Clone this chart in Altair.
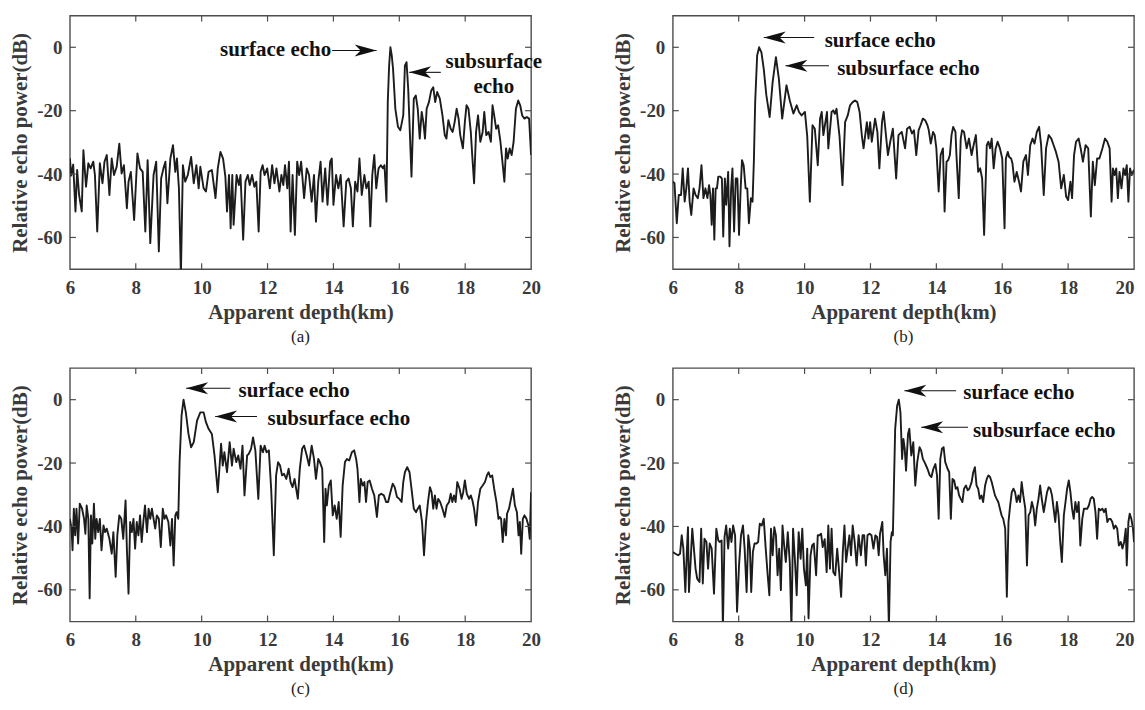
import altair as alt
import pandas as pd

# ---------------- data ----------------
X_TICKS = [6, 8, 10, 12, 14, 16, 18, 20]
Y_TICKS = [-60, -40, -20, 0]
CAPTIONS = ["(a)", "(b)", "(c)", "(d)"]

A_DEPTH = [6.00, 6.04, 6.10, 6.17, 6.22, 6.28, 6.36, 6.41, 6.49, 6.56,
           6.63, 6.71, 6.76, 6.83, 6.91, 6.99, 7.05, 7.12, 7.20, 7.27,
           7.34, 7.42, 7.50, 7.57, 7.64, 7.73, 7.78, 7.85, 7.95, 8.05,
           8.13, 8.21, 8.29, 8.36, 8.44, 8.54, 8.62, 8.70, 8.77, 8.84,
           8.90, 8.96, 9.05, 9.13, 9.20, 9.25, 9.31, 9.37, 9.43, 9.50,
           9.58, 9.68, 9.76, 9.84, 9.91, 9.96, 10.06, 10.13, 10.21, 10.31,
           10.42, 10.49, 10.57, 10.65, 10.72, 10.77, 10.83, 10.88, 10.93, 10.97,
           11.06, 11.13, 11.18, 11.26, 11.33, 11.40, 11.46, 11.53, 11.60, 11.66,
           11.73, 11.79, 11.85, 11.91, 11.99, 12.07, 12.14, 12.21, 12.27, 12.36,
           12.42, 12.48, 12.53, 12.60, 12.65, 12.70, 12.76, 12.83, 12.90, 12.96,
           13.02, 13.11, 13.19, 13.26, 13.34, 13.41, 13.47, 13.54, 13.61, 13.67,
           13.75, 13.82, 13.90, 13.95, 14.00, 14.08, 14.15, 14.22, 14.31, 14.39,
           14.46, 14.53, 14.59, 14.66, 14.73, 14.79, 14.86, 14.94, 15.00, 15.07,
           15.12, 15.18, 15.24, 15.30, 15.37, 15.44, 15.51, 15.55, 15.61, 15.65,
           15.69, 15.73, 15.77, 15.81, 15.88, 15.96, 16.03, 16.12, 16.17, 16.22,
           16.27, 16.37, 16.44, 16.50, 16.56, 16.62, 16.68, 16.73, 16.78, 16.83,
           16.90, 16.97, 17.03, 17.09, 17.15, 17.23, 17.31, 17.38, 17.43, 17.49,
           17.56, 17.62, 17.68, 17.74, 17.80, 17.85, 17.93, 17.99, 18.04, 18.10,
           18.17, 18.22, 18.27, 18.33, 18.39, 18.46, 18.53, 18.58, 18.64, 18.71,
           18.78, 18.83, 18.88, 18.94, 19.00, 19.07, 19.13, 19.19, 19.24, 19.29,
           19.35, 19.41, 19.47, 19.54, 19.61, 19.67, 19.73, 19.80, 19.87, 19.94,
           20.00]
A_POWER = [-35.0, -40.5, -37.0, -51.8, -38.7, -46.6, -51.8, -32.5, -44.0, -36.6,
           -38.2, -36.1, -40.3, -58.1, -36.6, -42.9, -36.1, -34.0, -46.6, -35.1,
           -40.3, -37.7, -30.4, -39.8, -37.2, -50.8, -42.4, -39.3, -54.5, -33.5,
           -38.2, -39.3, -58.1, -35.6, -61.8, -40.3, -36.1, -64.4, -41.4, -38.2,
           -36.1, -49.2, -35.1, -30.9, -39.3, -35.1, -44.5, -72.0, -37.2, -42.4,
           -40.3, -34.6, -42.9, -37.2, -44.5, -37.7, -44.5, -45.5, -39.3, -38.7,
           -47.6, -38.2, -33.0, -35.1, -40.8, -51.8, -40.3, -57.1, -40.3, -56.0,
           -40.3, -43.5, -40.3, -60.7, -42.4, -40.3, -43.5, -40.3, -44.0, -42.4,
           -58.1, -39.3, -37.2, -40.3, -38.2, -44.5, -37.2, -42.9, -38.2, -45.5,
           -40.3, -43.5, -37.2, -44.5, -36.1, -58.1, -40.3, -59.2, -36.1, -40.3,
           -36.1, -47.6, -38.2, -40.3, -48.7, -40.3, -55.0, -42.4, -36.1, -48.7,
           -38.2, -49.7, -36.1, -35.1, -49.7, -40.3, -44.5, -40.3, -56.5, -42.4,
           -41.4, -44.5, -56.5, -42.4, -45.5, -35.1, -46.6, -40.3, -44.5, -42.4,
           -56.5, -40.3, -34.0, -44.5, -38.2, -37.2, -38.2, -37.2, -48.7, -17.3,
           -6.0, 0.0, -2.5, -6.8, -19.4, -25.1, -26.2, -21.5, -5.8, -4.7,
           -13.1, -40.8, -16.2, -15.2, -19.4, -28.8, -20.4, -23.6, -28.8, -19.4,
           -17.3, -13.6, -12.6, -17.3, -14.1, -16.2, -21.5, -27.7, -28.8, -23.0,
           -25.7, -26.7, -23.6, -19.4, -22.5, -27.7, -31.9, -23.6, -18.3, -19.4,
           -26.7, -35.1, -42.9, -26.7, -21.5, -29.8, -26.7, -20.4, -27.7, -26.7,
           -29.8, -18.3, -21.5, -25.7, -24.6, -29.8, -36.1, -42.4, -31.9, -35.1,
           -31.9, -34.0, -29.8, -19.4, -16.8, -18.3, -21.5, -22.5, -22.0, -22.5,
           -34.0]

B_DEPTH = [6.00, 6.05, 6.12, 6.18, 6.25, 6.30, 6.36, 6.41, 6.46, 6.51,
           6.56, 6.63, 6.69, 6.76, 6.81, 6.87, 6.93, 6.99, 7.05, 7.10,
           7.14, 7.18, 7.22, 7.26, 7.30, 7.34, 7.38, 7.44, 7.49, 7.53,
           7.58, 7.62, 7.68, 7.72, 7.77, 7.81, 7.86, 7.91, 7.96, 8.01,
           8.06, 8.10, 8.15, 8.21, 8.26, 8.31, 8.37, 8.42, 8.46, 8.50,
           8.56, 8.62, 8.69, 8.76, 8.84, 8.94, 9.03, 9.13, 9.22, 9.32,
           9.45, 9.55, 9.66, 9.76, 9.83, 9.91, 10.01, 10.08, 10.16, 10.24,
           10.31, 10.40, 10.47, 10.52, 10.57, 10.68, 10.72, 10.82, 10.87, 10.92,
           10.97, 11.06, 11.15, 11.23, 11.31, 11.38, 11.46, 11.53, 11.60, 11.67,
           11.74, 11.79, 11.89, 11.94, 11.99, 12.04, 12.14, 12.21, 12.27, 12.35,
           12.40, 12.47, 12.53, 12.60, 12.68, 12.78, 12.85, 12.95, 13.05, 13.11,
           13.19, 13.26, 13.32, 13.39, 13.46, 13.52, 13.59, 13.66, 13.73, 13.77,
           13.83, 13.90, 13.95, 14.00, 14.07, 14.13, 14.20, 14.25, 14.31, 14.36,
           14.41, 14.46, 14.51, 14.58, 14.61, 14.68, 14.74, 14.78, 14.84, 14.92,
           14.99, 15.07, 15.13, 15.20, 15.27, 15.33, 15.39, 15.45, 15.53, 15.58,
           15.63, 15.68, 15.74, 15.80, 15.86, 15.93, 16.00, 16.07, 16.11, 16.17,
           16.21, 16.27, 16.31, 16.37, 16.44, 16.51, 16.57, 16.64, 16.72, 16.78,
           16.85, 16.92, 16.98, 17.05, 17.12, 17.18, 17.26, 17.33, 17.41, 17.49,
           17.56, 17.63, 17.71, 17.79, 17.87, 17.94, 18.00, 18.07, 18.12, 18.18,
           18.24, 18.32, 18.38, 18.45, 18.53, 18.61, 18.69, 18.75, 18.81, 18.88,
           18.95, 19.04, 19.12, 19.19, 19.26, 19.32, 19.36, 19.41, 19.46, 19.51,
           19.56, 19.62, 19.68, 19.73, 19.78, 19.83, 19.88, 19.93, 20.00]
B_POWER = [-42.4, -42.9, -55.5, -46.6, -46.6, -38.2, -48.7, -44.5, -38.2, -48.7,
           -52.9, -44.5, -46.6, -47.6, -44.5, -37.2, -47.6, -44.5, -47.6, -43.5,
           -46.6, -56.0, -44.5, -60.7, -44.5, -44.5, -40.8, -40.8, -41.4, -59.7,
           -41.4, -49.7, -39.3, -62.8, -44.5, -38.2, -58.1, -41.4, -41.4, -59.2,
           -44.5, -35.6, -37.2, -44.5, -44.5, -55.5, -47.6, -48.7, -36.1, -17.3,
           -2.6, 0.0, -1.6, -6.8, -15.2, -22.0, -11.0, -3.1, -10.0, -22.5,
           -12.0, -16.8, -20.9, -18.3, -20.4, -21.5, -20.4, -28.0, -48.7, -24.6,
           -25.7, -37.2, -22.5, -20.4, -27.7, -20.4, -31.9, -20.4, -19.9, -21.0,
           -19.4, -28.0, -43.5, -23.6, -21.5, -18.3, -17.3, -16.8, -17.3, -20.4,
           -28.0, -31.9, -23.6, -28.8, -23.6, -29.8, -22.5, -26.7, -38.2, -23.6,
           -20.4, -27.7, -34.0, -29.8, -25.7, -41.4, -27.7, -26.7, -31.9, -25.7,
           -25.1, -27.2, -26.2, -34.0, -26.2, -24.6, -22.5, -23.0, -24.6, -26.2,
           -30.4, -26.7, -27.7, -31.9, -45.5, -34.0, -31.9, -51.8, -36.1, -35.6,
           -34.0, -27.7, -25.1, -26.7, -34.0, -47.6, -28.8, -26.2, -26.7, -31.9,
           -28.8, -34.0, -30.9, -27.7, -39.3, -38.2, -41.4, -59.2, -30.9, -29.8,
           -31.9, -28.8, -38.2, -31.9, -29.8, -31.9, -35.1, -57.1, -35.1, -33.0,
           -34.6, -35.1, -36.6, -42.4, -39.3, -42.4, -45.5, -36.1, -34.0, -40.3,
           -30.9, -28.8, -30.4, -26.7, -25.1, -30.9, -46.6, -31.9, -27.7, -28.8,
           -30.9, -33.0, -36.1, -44.5, -40.3, -47.1, -48.2, -42.4, -47.6, -34.0,
           -29.8, -28.8, -31.9, -36.1, -30.9, -31.9, -53.4, -36.1, -43.5, -35.1,
           -35.1, -31.9, -28.8, -29.8, -31.9, -48.7, -38.2, -40.3, -38.2, -47.6,
           -39.3, -44.5, -38.2, -40.3, -37.2, -48.7, -38.2, -40.3, -38.7]

C_DEPTH = [6.00, 6.05, 6.08, 6.12, 6.16, 6.20, 6.25, 6.30, 6.37, 6.43,
           6.47, 6.51, 6.56, 6.60, 6.64, 6.68, 6.73, 6.77, 6.81, 6.86,
           6.91, 6.96, 7.02, 7.07, 7.12, 7.20, 7.27, 7.32, 7.39, 7.44,
           7.50, 7.56, 7.62, 7.69, 7.73, 7.78, 7.83, 7.88, 7.93, 7.98,
           8.03, 8.08, 8.13, 8.18, 8.23, 8.28, 8.34, 8.39, 8.44, 8.49,
           8.54, 8.59, 8.64, 8.70, 8.76, 8.82, 8.87, 8.92, 8.99, 9.05,
           9.10, 9.15, 9.20, 9.24, 9.29, 9.33, 9.39, 9.45, 9.52, 9.60,
           9.68, 9.76, 9.86, 9.96, 10.06, 10.13, 10.21, 10.31, 10.39, 10.49,
           10.59, 10.64, 10.69, 10.77, 10.85, 10.92, 10.97, 11.05, 11.11, 11.18,
           11.24, 11.30, 11.38, 11.43, 11.50, 11.56, 11.63, 11.72, 11.79, 11.86,
           11.91, 11.97, 12.04, 12.11, 12.19, 12.26, 12.32, 12.38, 12.44, 12.50,
           12.57, 12.64, 12.70, 12.76, 12.82, 12.86, 12.92, 12.98, 13.05, 13.11,
           13.19, 13.26, 13.34, 13.41, 13.47, 13.54, 13.59, 13.66, 13.72, 13.76,
           13.80, 13.86, 13.92, 13.98, 14.04, 14.10, 14.16, 14.22, 14.28, 14.35,
           14.41, 14.48, 14.56, 14.63, 14.69, 14.73, 14.79, 14.83, 14.89, 14.94,
           14.99, 15.04, 15.10, 15.17, 15.24, 15.32, 15.38, 15.45, 15.53, 15.60,
           15.66, 15.73, 15.80, 15.86, 15.93, 16.00, 16.07, 16.12, 16.17, 16.24,
           16.31, 16.37, 16.44, 16.51, 16.56, 16.62, 16.69, 16.75, 16.81, 16.87,
           16.93, 16.98, 17.03, 17.08, 17.13, 17.18, 17.24, 17.31, 17.38, 17.44,
           17.51, 17.56, 17.61, 17.66, 17.71, 17.76, 17.83, 17.89, 17.94, 17.99,
           18.05, 18.12, 18.17, 18.22, 18.27, 18.33, 18.39, 18.46, 18.53, 18.60,
           18.66, 18.71, 18.76, 18.82, 18.88, 18.95, 19.01, 19.05, 19.09, 19.14,
           19.19, 19.24, 19.27, 19.33, 19.39, 19.45, 19.51, 19.57, 19.62, 19.66,
           19.70, 19.75, 19.80, 19.86, 19.92, 19.96, 20.00]
C_POWER = [-37.6, -40.7, -47.5, -34.4, -42.8, -34.4, -45.4, -32.8, -34.4, -37.6,
           -42.3, -33.4, -37.6, -62.7, -36.5, -45.4, -32.8, -43.9, -37.6, -41.8,
           -37.6, -47.5, -39.7, -41.8, -40.7, -43.9, -48.6, -41.8, -55.9, -42.8,
           -36.5, -37.6, -43.9, -31.8, -47.0, -61.2, -38.6, -41.8, -37.6, -47.0,
           -38.6, -42.8, -36.5, -44.9, -38.6, -33.4, -41.8, -34.4, -37.6, -34.4,
           -37.6, -40.7, -36.5, -37.6, -46.5, -34.4, -37.6, -36.5, -38.6, -46.0,
           -37.6, -52.3, -36.5, -35.5, -37.6, -19.7, -5.0, 0.0, -4.0, -10.8,
           -15.0, -13.4, -6.6, -4.0, -4.0, -7.1, -9.2, -10.8, -17.6, -29.2,
           -13.9, -20.8, -16.6, -22.9, -13.4, -20.8, -15.5, -19.7, -17.6, -21.8,
           -14.5, -30.2, -17.6, -17.1, -15.5, -11.9, -16.0, -31.3, -14.5, -16.6,
           -14.5, -16.6, -16.0, -28.1, -49.1, -23.9, -19.7, -20.8, -23.9, -23.4,
           -25.0, -21.8, -26.0, -27.6, -25.0, -27.6, -31.3, -21.8, -15.5, -14.5,
           -17.6, -20.8, -14.5, -18.7, -25.0, -18.7, -19.7, -21.8, -44.9, -28.1,
           -33.4, -27.1, -25.5, -36.5, -33.4, -37.6, -32.3, -43.3, -27.1, -19.7,
           -18.7, -19.2, -16.6, -16.0, -18.7, -21.8, -32.3, -25.0, -27.1, -26.0,
           -32.3, -26.0, -25.5, -28.1, -30.2, -37.0, -30.2, -29.7, -30.2, -32.3,
           -32.3, -29.2, -26.5, -27.6, -30.7, -31.3, -32.3, -26.0, -22.9, -21.3,
           -22.9, -28.1, -34.4, -35.5, -34.4, -33.4, -38.6, -49.1, -38.6, -32.3,
           -27.6, -29.2, -34.4, -30.2, -34.4, -31.3, -32.3, -34.4, -37.0, -33.4,
           -32.3, -29.7, -32.3, -30.2, -32.3, -26.0, -28.1, -31.3, -29.2, -25.5,
           -29.7, -31.3, -30.2, -31.8, -34.4, -39.7, -32.3, -28.1, -27.1, -26.0,
           -23.9, -22.9, -24.4, -23.9, -28.1, -32.3, -37.6, -37.0, -37.6, -44.9,
           -37.6, -42.8, -36.0, -34.4, -31.3, -28.1, -33.4, -35.5, -42.8, -38.6,
           -48.6, -37.6, -36.5, -37.6, -39.7, -43.9, -29.2]

D_DEPTH = [6.00, 6.08, 6.16, 6.22, 6.27, 6.32, 6.38, 6.43, 6.46, 6.49,
           6.54, 6.59, 6.64, 6.69, 6.74, 6.81, 6.86, 6.91, 6.96, 7.02,
           7.07, 7.12, 7.18, 7.25, 7.32, 7.38, 7.42, 7.48, 7.52, 7.57,
           7.62, 7.68, 7.73, 7.78, 7.83, 7.89, 7.95, 8.01, 8.07, 8.13,
           8.18, 8.24, 8.29, 8.34, 8.38, 8.43, 8.48, 8.54, 8.59, 8.64,
           8.70, 8.76, 8.82, 8.88, 8.93, 8.98, 9.03, 9.08, 9.13, 9.18,
           9.23, 9.28, 9.33, 9.38, 9.43, 9.49, 9.55, 9.60, 9.65, 9.71,
           9.76, 9.82, 9.88, 9.93, 9.98, 10.04, 10.08, 10.12, 10.18, 10.23,
           10.28, 10.35, 10.40, 10.45, 10.50, 10.55, 10.61, 10.67, 10.72, 10.77,
           10.82, 10.87, 10.93, 10.99, 11.05, 11.11, 11.16, 11.21, 11.26, 11.31,
           11.36, 11.41, 11.46, 11.52, 11.58, 11.64, 11.71, 11.76, 11.81, 11.86,
           11.91, 11.97, 12.03, 12.09, 12.15, 12.20, 12.25, 12.29, 12.36, 12.40,
           12.45, 12.50, 12.56, 12.61, 12.65, 12.68, 12.71, 12.75, 12.81, 12.86,
           12.91, 12.96, 13.00, 13.04, 13.08, 13.14, 13.18, 13.24, 13.30, 13.36,
           13.42, 13.49, 13.54, 13.59, 13.64, 13.73, 13.80, 13.85, 13.91, 13.97,
           14.02, 14.07, 14.12, 14.17, 14.22, 14.27, 14.34, 14.39, 14.44, 14.49,
           14.54, 14.59, 14.64, 14.69, 14.74, 14.79, 14.84, 14.90, 14.95, 15.00,
           15.07, 15.12, 15.17, 15.22, 15.27, 15.32, 15.37, 15.42, 15.48, 15.53,
           15.58, 15.63, 15.68, 15.73, 15.78, 15.83, 15.88, 15.93, 15.98, 16.03,
           16.09, 16.14, 16.19, 16.24, 16.29, 16.34, 16.39, 16.44, 16.49, 16.54,
           16.59, 16.64, 16.70, 16.75, 16.80, 16.85, 16.90, 16.95, 17.00, 17.05,
           17.10, 17.15, 17.20, 17.26, 17.31, 17.36, 17.41, 17.46, 17.51, 17.56,
           17.61, 17.66, 17.71, 17.76, 17.81, 17.87, 17.92, 17.97, 18.02, 18.07,
           18.12, 18.17, 18.22, 18.27, 18.32, 18.37, 18.43, 18.48, 18.53, 18.58,
           18.63, 18.68, 18.73, 18.78, 18.83, 18.88, 18.93, 18.98, 19.04, 19.09,
           19.14, 19.19, 19.24, 19.29, 19.34, 19.39, 19.44, 19.49, 19.54, 19.60,
           19.65, 19.70, 19.75, 19.78, 19.83, 19.87, 19.92, 19.97, 20.00]
D_POWER = [-48.1, -48.6, -49.1, -48.6, -42.8, -47.0, -60.7, -47.0, -40.2, -60.7,
           -51.2, -40.7, -47.0, -53.3, -56.5, -57.5, -40.7, -58.0, -43.9, -44.9,
           -53.3, -45.4, -47.0, -61.2, -40.7, -44.4, -44.9, -44.4, -72.0, -43.3,
           -39.7, -47.0, -40.7, -44.9, -39.7, -42.8, -66.9, -52.3, -42.8, -39.7,
           -47.0, -60.7, -42.8, -47.0, -60.7, -48.1, -45.4, -45.4, -44.9, -39.1,
           -39.7, -37.6, -47.0, -55.4, -61.7, -40.7, -49.1, -40.2, -42.8, -55.4,
           -47.0, -60.1, -39.7, -46.0, -51.2, -41.8, -51.2, -72.0, -40.7, -51.2,
           -61.7, -41.8, -50.2, -40.7, -53.3, -58.6, -47.0, -69.0, -49.1, -46.0,
           -45.4, -55.4, -42.8, -42.8, -42.3, -46.5, -44.0, -54.4, -39.7, -53.3,
           -40.7, -54.4, -55.4, -47.0, -54.4, -62.2, -48.1, -39.7, -51.2, -47.0,
           -42.8, -49.1, -39.7, -44.9, -52.3, -42.8, -49.1, -42.8, -42.8, -52.3,
           -42.8, -42.3, -42.8, -47.0, -42.8, -43.3, -49.1, -42.3, -38.6, -49.1,
           -55.4, -47.0, -72.0, -44.9, -41.8, -42.8, -28.1, -9.2, -1.9, 0.0,
           -4.0, -18.7, -12.4, -15.5, -22.4, -10.8, -9.2, -17.6, -13.4, -27.1,
           -19.7, -15.0, -16.1, -18.7, -19.7, -21.8, -23.9, -24.4, -21.8, -20.3,
           -23.9, -37.6, -18.7, -15.5, -15.0, -19.7, -21.8, -22.9, -37.6, -25.0,
           -25.5, -28.1, -27.6, -30.2, -31.3, -32.3, -28.1, -27.1, -28.6, -28.1,
           -26.0, -22.9, -21.3, -27.1, -28.1, -31.3, -30.2, -32.3, -27.1, -25.0,
           -23.9, -24.4, -26.0, -28.1, -30.2, -31.3, -32.3, -34.4, -36.5, -37.6,
           -40.7, -62.2, -38.6, -33.4, -29.2, -28.1, -29.2, -32.3, -30.2, -32.3,
           -26.0, -30.2, -34.4, -52.3, -36.5, -35.5, -32.3, -34.4, -39.7, -34.4,
           -31.3, -27.1, -31.3, -35.5, -32.3, -29.2, -27.6, -28.1, -30.2, -34.4,
           -38.6, -32.3, -36.5, -44.9, -51.2, -36.5, -32.3, -28.1, -25.5, -29.2,
           -34.4, -37.6, -32.3, -35.5, -32.3, -46.0, -37.6, -34.4, -34.4, -34.4,
           -33.4, -31.3, -30.7, -31.3, -35.5, -43.9, -34.4, -34.9, -34.4, -35.5,
           -34.4, -38.6, -37.6, -37.6, -38.6, -40.7, -39.7, -40.7, -46.0, -44.9,
           -47.0, -44.9, -40.7, -52.3, -38.6, -36.0, -37.6, -40.7, -44.9]

# annotations (data units): text anchor and arrow tail/tip
A_NOTE_TEXT = ["surface echo", "subsurface\necho"]
A_NOTE_DEPTH = [13.93, 18.87]
A_NOTE_POWER = [-1.0, -4.7]
A_NOTE_ALIGN = ["right", "center"]
A_ARROW_TAIL = [13.96, 17.26]
A_ARROW_TIP = [15.31, 16.30]
A_ARROW_POWER = [-1.0, -7.9]

B_NOTE_TEXT = ["surface echo", "subsurface echo"]
B_NOTE_DEPTH = [10.61, 10.99]
B_NOTE_POWER = [2.1, -6.8]
B_NOTE_ALIGN = ["left", "left"]
B_ARROW_TAIL = [10.29, 10.74]
B_ARROW_TIP = [8.76, 9.42]
B_ARROW_POWER = [3.1, -5.8]

C_NOTE_TEXT = ["surface echo", "subsurface echo"]
C_NOTE_DEPTH = [11.12, 12.00]
C_NOTE_POWER = [2.8, -6.1]
C_NOTE_ALIGN = ["left", "left"]
C_ARROW_TAIL = [10.87, 11.68]
C_ARROW_TIP = [9.53, 10.41]
C_ARROW_POWER = [3.6, -5.3]

D_NOTE_TEXT = ["surface echo", "subsurface echo"]
D_NOTE_DEPTH = [14.82, 15.11]
D_NOTE_POWER = [2.1, -9.8]
D_NOTE_ALIGN = ["left", "left"]
D_ARROW_TAIL = [14.60, 14.96]
D_ARROW_TIP = [13.03, 13.54]
D_ARROW_POWER = [2.8, -8.7]

# ---------------- styling ----------------
FONT = "Liberation Serif"
W, H = 462, 254
AX_COLOR = "#3a3a3a"
BOX_COLOR = "#4d4d4d"
LINE_COLOR = "#1c1c1c"
INK = "#111111"
HEAD_PATH = "M 0 0 L 2 -0.55 L 1.45 0 L 2 0.55 Z"

XSCALE = alt.Scale(domain=[6, 20], nice=False, zero=False)
YSCALE = alt.Scale(domain=[-70, 10], nice=False, zero=False)
YAXIS = alt.Axis(values=Y_TICKS, title="Relative echo power(dB)", grid=False,
                 domain=False, ticks=False, tickSize=0, labelFlush=False,
                 labelPadding=8, titlePadding=6, labelExpr="'' + datum.value",
                 labelOverlap=False)


def x_axis(right_column):
    align = "center"
    if right_column:
        # keep the last label inside the page edge
        align = {"condition": {"test": "datum.value == 20", "value": "right"},
                 "value": "center"}
    return alt.Axis(values=X_TICKS, title="Apparent depth(km)", grid=False, domain=False,
                    ticks=False, tickSize=0, labelFlush=False, labelPadding=9,
                    titlePadding=4, labelOverlap=False, labelAlign=align)


def panel(depth, power, n_text, n_depth, n_power, n_align, a_tail, a_tip, a_power,
          caption, right_column):
    X = alt.X("depth:Q", scale=XSCALE, axis=x_axis(right_column))
    Y = alt.Y("power:Q", scale=YSCALE, axis=YAXIS)

    line = alt.Chart(pd.DataFrame({"depth": depth, "power": power})).mark_line(
        color=LINE_COLOR, strokeWidth=1.9, clip=True, strokeJoin="round"
    ).encode(x=X, y=Y)

    xt = pd.DataFrame({"depth": X_TICKS[1:-1]})
    yt = pd.DataFrame({"power": Y_TICKS})
    tick_top = alt.Chart(xt).mark_rule(color=BOX_COLOR, strokeWidth=1.2).encode(
        x=X, y=alt.value(0), y2=alt.value(6))
    tick_bot = alt.Chart(xt).mark_rule(color=BOX_COLOR, strokeWidth=1.2).encode(
        x=X, y=alt.value(H), y2=alt.value(H - 6))
    tick_left = alt.Chart(yt).mark_rule(color=BOX_COLOR, strokeWidth=1.2).encode(
        y=Y, x=alt.value(0), x2=alt.value(6))
    tick_right = alt.Chart(yt).mark_rule(color=BOX_COLOR, strokeWidth=1.2).encode(
        y=Y, x=alt.value(W), x2=alt.value(W - 6))

    shafts = pd.DataFrame({"depth": a_tail, "depth2": a_tip,
                           "power": a_power, "power2": a_power})
    shaft = alt.Chart(shafts).mark_rule(color=INK, strokeWidth=1.1).encode(
        x=X, x2="depth2:Q", y=Y, y2="power2:Q")

    heads = pd.DataFrame({"depth": a_tip, "power": a_power,
                          "angle": [180 if tp > tl else 0 for tl, tp in zip(a_tail, a_tip)]})
    head = alt.Chart(heads).mark_point(
        shape=HEAD_PATH, filled=True, size=484, color=INK, opacity=1, strokeWidth=0
    ).encode(x=X, y=Y, angle=alt.Angle("angle:Q", scale=None))

    layers = [line, tick_top, tick_bot, tick_left, tick_right, shaft, head]
    for t, d, p, a in zip(n_text, n_depth, n_power, n_align):
        layers.append(
            alt.Chart(pd.DataFrame({"depth": [d], "power": [p], "label": [t]})).mark_text(
                align=a, baseline="middle", font=FONT, fontWeight="bold", fontSize=21,
                color=INK, lineBreak="\n", lineHeight=25
            ).encode(x=X, y=Y, text="label:N")
        )
    return alt.layer(*layers).properties(
        width=W, height=H,
        title=alt.TitleParams(caption, orient="bottom", anchor="middle", font=FONT,
                              fontSize=17, fontWeight="normal", color="#222222", offset=7),
    )


pa = panel(A_DEPTH, A_POWER, A_NOTE_TEXT, A_NOTE_DEPTH, A_NOTE_POWER, A_NOTE_ALIGN,
           A_ARROW_TAIL, A_ARROW_TIP, A_ARROW_POWER, CAPTIONS[0], False)
pb = panel(B_DEPTH, B_POWER, B_NOTE_TEXT, B_NOTE_DEPTH, B_NOTE_POWER, B_NOTE_ALIGN,
           B_ARROW_TAIL, B_ARROW_TIP, B_ARROW_POWER, CAPTIONS[1], True)
pc = panel(C_DEPTH, C_POWER, C_NOTE_TEXT, C_NOTE_DEPTH, C_NOTE_POWER, C_NOTE_ALIGN,
           C_ARROW_TAIL, C_ARROW_TIP, C_ARROW_POWER, CAPTIONS[2], False)
pd_ = panel(D_DEPTH, D_POWER, D_NOTE_TEXT, D_NOTE_DEPTH, D_NOTE_POWER, D_NOTE_ALIGN,
            D_ARROW_TAIL, D_ARROW_TIP, D_ARROW_POWER, CAPTIONS[3], True)

chart = alt.concat(pa, pb, pc, pd_, columns=2, spacing={"row": 99, "column": 142},
                   bounds="flush").configure_view(
    stroke=BOX_COLOR, strokeWidth=1.4
).configure_axis(
    labelFont=FONT, labelFontSize=19, labelFontWeight="bold", labelColor=AX_COLOR,
    titleFont=FONT, titleFontSize=21, titleFontWeight="bold", titleColor=AX_COLOR,
).properties(
    background="white",
    padding={"left": 0, "top": 5, "right": 1, "bottom": 0},
)

chart.save("out.html", embed_options={"renderer": "svg", "actions": False})
